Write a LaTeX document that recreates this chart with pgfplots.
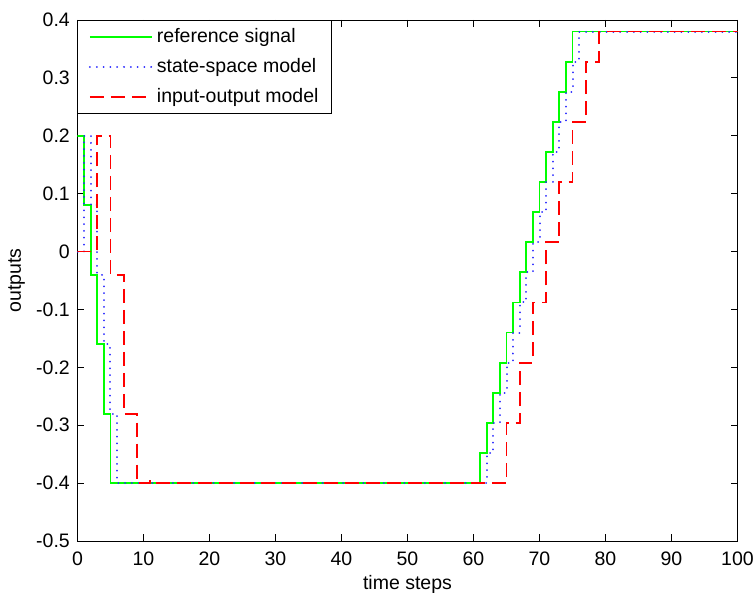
\documentclass[border=0pt]{standalone}
\usepackage{fontspec}
\setmainfont{Liberation Sans}
\usepackage{pgfplots}
\pgfplotsset{compat=1.18}
\definecolor{mgreen}{RGB}{0,255,0}
\definecolor{mblue}{RGB}{40,40,255}
\definecolor{mred}{RGB}{255,0,0}
\begin{document}
\fontsize{19.5pt}{23pt}\selectfont
\begin{tikzpicture}
\begin{axis}[
  scale only axis,
  width=660pt, height=521pt,
  xmin=0, xmax=100, ymin=-0.5, ymax=0.4,
  xtick={0,10,...,100},
  ytick={-0.5,-0.4,-0.3,-0.2,-0.1,0,0.1,0.2,0.3,0.4},
  yticklabels={-0.5,-0.4,-0.3,-0.2,-0.1,0,0.1,0.2,0.3,0.4},
  /pgf/number format/assume math mode=true,
  tick align=inside,
  major tick length=7pt,
  axis line style={line width=0.9pt, black},
  every tick/.style={line width=0.9pt, black},
  ticklabel style={font=\fontsize{19.5pt}{23pt}\selectfont},
  xticklabel style={yshift=-4pt},
  yticklabel style={xshift=-1pt},
  label style={font=\fontsize{19.5pt}{23pt}\selectfont},
  xlabel={time steps},
  ylabel={outputs},
  xlabel style={yshift=3pt},
  ylabel style={yshift=-2pt},
  legend cell align=left,
  legend style={at={(0,1)}, anchor=north west, draw=black, line width=0.9pt,
    font=\fontsize{19.5pt}{23pt}\selectfont, inner xsep=11pt, inner ysep=6pt,
    row sep=9pt, fill=white},
  legend image code/.code={\draw[#1] (0pt,0pt) -- (62pt,0pt); \path (64pt,0pt);},
]
\addplot[color=mgreen, line width=1.8pt] coordinates {
(0,0.2)(1,0.2)(1,0.08)(2,0.08)(2,-0.04)(3,-0.04)(3,-0.16)(4,-0.16)(4,-0.28)(5,-0.28)(5,-0.4)
(61,-0.4)(61,-0.348)(62,-0.348)(62,-0.296)(63,-0.296)(63,-0.244)(64,-0.244)(64,-0.192)
(65,-0.192)(65,-0.14)(66,-0.14)(66,-0.088)(67,-0.088)(67,-0.036)(68,-0.036)(68,0.016)
(69,0.016)(69,0.068)(70,0.068)(70,0.12)(71,0.12)(71,0.172)(72,0.172)(72,0.224)
(73,0.224)(73,0.276)(74,0.276)(74,0.328)(75,0.328)(75,0.38)(100,0.38)};
\addlegendentry{reference signal}
\addplot[color=mblue, line width=2pt, line cap=round, dash pattern=on 0.01pt off 6.8pt] coordinates {
(0,0)(1,0)(1,0.2)(2,0.2)(2,0.08)(3,0.08)(3,-0.04)(4,-0.04)(4,-0.16)(5,-0.16)(5,-0.28)(6,-0.28)(6,-0.4)
(62,-0.4)(62,-0.348)(63,-0.348)(63,-0.296)(64,-0.296)(64,-0.244)(65,-0.244)(65,-0.192)
(66,-0.192)(66,-0.14)(67,-0.14)(67,-0.088)(68,-0.088)(68,-0.036)(69,-0.036)(69,0.016)
(70,0.016)(70,0.068)(71,0.068)(71,0.12)(72,0.12)(72,0.172)(73,0.172)(73,0.224)
(74,0.224)(74,0.276)(75,0.276)(75,0.328)(76,0.328)(76,0.38)(100,0.38)};
\addlegendentry{state-space model}
\addplot[color=mred, line width=1.8pt, dash pattern=on 14pt off 7pt] coordinates {
(0,0)(3,0)(3,0.2)(5,0.2)(5,-0.04)(7,-0.04)(7,-0.28)(9,-0.28)(9,-0.4)(11,-0.4)(11,-0.396)(12,-0.396)(12,-0.4)
(65,-0.4)(65,-0.296)(67,-0.296)(67,-0.192)(69,-0.192)(69,-0.088)(71,-0.088)(71,0.016)
(73,0.016)(73,0.12)(75,0.12)(75,0.224)(77,0.224)(77,0.328)(79,0.328)(79,0.38)(100,0.38)};
\addlegendentry{input-output model}
\end{axis}
\pgfresetboundingbox
\useasboundingbox ([shift={(-77.5pt,-52pt)}]current axis.south west) rectangle ([shift={(15.5pt,20pt)}]current axis.north east);
\end{tikzpicture}
\end{document}
